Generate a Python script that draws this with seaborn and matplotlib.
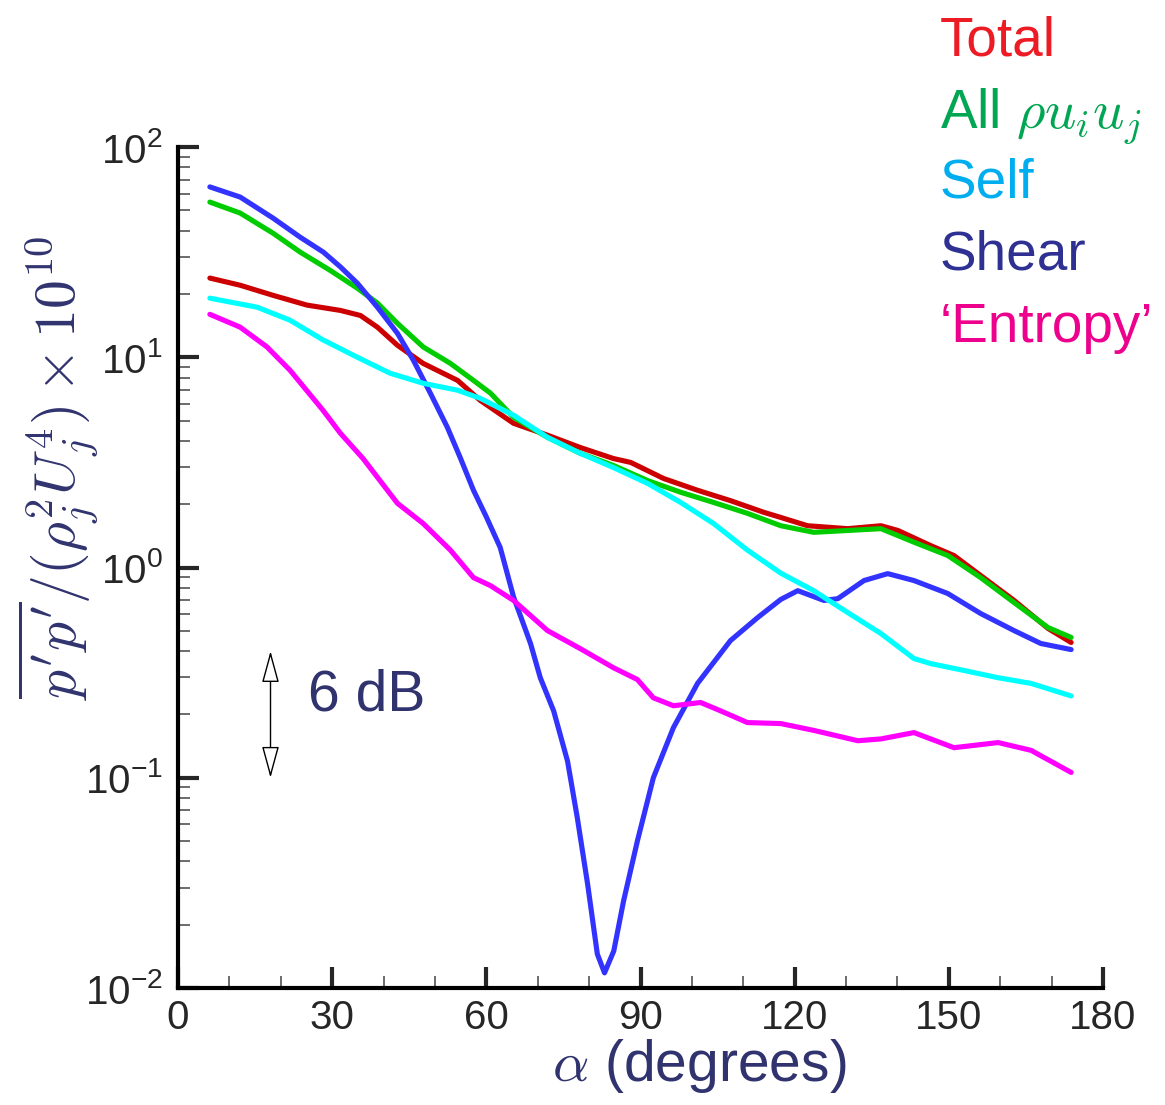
import numpy as np
import pandas as pd
import matplotlib
matplotlib.use('Agg')
import matplotlib.pyplot as plt
import seaborn as sns
from matplotlib.ticker import LogLocator, FuncFormatter, MultipleLocator, NullFormatter

# Far-field directivity of the sound sources
total_alpha = [6.2, 12.1, 18.5, 25.1, 31.6, 35.5, 38.8, 42.7, 47.7, 54.4, 58.8, 65.3, 71.9,
               78.3, 84.7, 88.1, 94.5, 101.1, 107.5, 114.0, 117.3, 122.5, 130.3, 136.8,
               140.1, 146.5, 151.0, 156.2, 162.7, 169.3, 173.8]
total_val = [23.8, 22.0, 19.7, 17.7, 16.7, 15.8, 13.9, 11.4, 9.35, 7.76, 6.24, 4.85, 4.26,
             3.72, 3.30, 3.16, 2.65, 2.33, 2.08, 1.83, 1.73, 1.58, 1.53, 1.58,
             1.50, 1.27, 1.14, 0.916, 0.697, 0.513, 0.440]

all_alpha = [6.2, 12.1, 18.5, 23.8, 29.6, 34.9, 38.8, 42.7, 47.7, 53.0, 57.5, 60.8, 65.3,
             71.9, 78.3, 84.7, 91.4, 97.8, 104.2, 110.8, 117.3, 123.7, 130.3, 136.8,
             143.2, 149.8, 156.2, 162.7, 169.3, 173.8]
all_val = [54.7, 48.5, 38.9, 31.6, 25.9, 21.3, 18.1, 14.5, 11.2, 9.35, 7.76, 6.75, 5.18,
           4.16, 3.49, 3.06, 2.59, 2.28, 2.04, 1.81, 1.58, 1.47, 1.50, 1.53,
           1.32, 1.14, 0.895, 0.681, 0.518, 0.465]

self_alpha = [6.2, 15.4, 21.8, 28.2, 34.9, 41.3, 47.7, 54.4, 58.8, 65.3, 71.9, 78.3, 84.7,
              91.4, 97.8, 104.2, 110.8, 117.3, 123.7, 130.3, 136.8, 143.2, 146.5, 152.9,
              159.6, 166.0, 173.8]
self_val = [19.1, 17.3, 15.0, 12.1, 10.0, 8.39, 7.52, 6.97, 6.38, 5.30, 4.16, 3.49, 2.99,
            2.51, 2.04, 1.62, 1.21, 0.940, 0.776, 0.611, 0.485, 0.369, 0.349, 0.324,
            0.299, 0.281, 0.245]

shear_alpha = [6.2, 12.1, 18.5, 23.8, 28.3, 31.6, 34.9, 38.8, 42.7, 45.8, 49.1, 52.4, 54.9,
               57.5, 60.0, 62.7, 65.3, 68.6, 70.5, 73.1, 75.8, 77.7, 79.7, 81.6, 83.0,
               84.8, 86.7, 89.4, 92.5, 96.4, 101.1, 107.5, 112.8, 117.3, 120.6, 125.7,
               128.4, 133.5, 138.1, 143.2, 149.8, 156.2, 162.7, 167.9, 173.8]
shear_val = [64.6, 57.8, 45.9, 37.2, 31.6, 26.9, 22.5, 17.3, 13.0, 9.68, 6.75, 4.65, 3.34,
             2.33, 1.74, 1.245, 0.724, 0.435, 0.299, 0.208, 0.120, 0.0646, 0.0313, 0.0145, 0.0118,
             0.0150, 0.0259, 0.0501, 0.100, 0.173, 0.281, 0.449, 0.578, 0.705, 0.776, 0.697,
             0.711, 0.867, 0.935, 0.867, 0.752, 0.604, 0.501, 0.435, 0.407]

entropy_alpha = [6.2, 12.1, 17.3, 21.8, 28.2, 31.6, 36.0, 38.0, 42.7, 47.7, 53.0, 57.5, 60.8,
                 65.3, 71.9, 78.3, 84.7, 89.4, 92.5, 96.4, 101.7, 105.6, 110.8, 117.3,
                 123.7, 132.3, 136.8, 143.2, 151.0, 159.6, 166.0, 173.8]
entropy_val = [16.0, 13.9, 11.2, 8.67, 5.60, 4.35, 3.30, 2.85, 2.02, 1.62, 1.21, 0.895, 0.820,
               0.697, 0.501, 0.411, 0.334, 0.293, 0.240, 0.220, 0.228, 0.208, 0.183, 0.181,
               0.168, 0.150, 0.153, 0.164, 0.139, 0.147, 0.135, 0.106]

# legend entries, drawn as coloured text in the top right
legend_labels = ['Total', r'All $\rho u_i u_j$', 'Self', 'Shear', '\u2018Entropy\u2019']
legend_colors = ['#ed1c24', '#00a651', '#00aeef', '#2e3192', '#ec008c']

# 6 dB scale bar
bar_alpha = 18.0
bar_top, bar_bottom = 0.40, 0.10

# Build long-form table
parts = []
for name, a, v in [('Total', total_alpha, total_val), ('All', all_alpha, all_val),
                   ('Shear', shear_alpha, shear_val), ('Self', self_alpha, self_val),
                   ('Entropy', entropy_alpha, entropy_val)]:
    parts.append(pd.DataFrame({'alpha': a, 'value': v, 'source': name}))
df = pd.concat(parts, ignore_index=True)

line_colors = {'Total': '#cc0000', 'All': '#00cc00', 'Self': '#00ffff',
               'Shear': '#3333ff', 'Entropy': '#ff00ff'}
navy = '#30336e'

sns.set_style('ticks')
plt.rcParams['font.family'] = ['Liberation Sans', 'DejaVu Sans']
plt.rcParams['mathtext.fontset'] = 'cm'

fig = plt.figure(figsize=(11.65, 11.05), dpi=100)
ax = fig.add_axes([178 / 1165, 1 - 988 / 1105, 925 / 1165, 841 / 1105])

sns.lineplot(data=df, x='alpha', y='value', hue='source',
             hue_order=['Total', 'All', 'Shear', 'Self', 'Entropy'],
             palette=line_colors, estimator=None, sort=False,
             linewidth=3.7, legend=False, ax=ax)

ax.set_yscale('log')
ax.set_xlim(0, 180)
ax.set_ylim(1e-2, 1e2)

ax.xaxis.set_major_locator(MultipleLocator(30))
ax.xaxis.set_minor_locator(MultipleLocator(10))
ax.yaxis.set_major_locator(LogLocator(base=10))
ax.yaxis.set_minor_locator(LogLocator(base=10, subs=np.arange(2, 10)))
ax.yaxis.set_minor_formatter(NullFormatter())
ax.yaxis.set_major_formatter(FuncFormatter(lambda v, p: r'$\mathregular{10^{%d}}$' % int(round(np.log10(v)))))

ax.tick_params(which='major', direction='in', length=15, width=3, labelsize=29, pad=8)
ax.tick_params(axis='y', which='major', pad=11)
ax.tick_params(which='minor', direction='in', length=8.5, width=1.1, color='#444444')
ax.tick_params(top=False, right=False, which='both')

for s in ['top', 'right']:
    ax.spines[s].set_visible(False)
for s in ['left', 'bottom']:
    ax.spines[s].set_linewidth(3)
    ax.spines[s].set_color('black')

ax.set_xlabel(r'$\alpha$ (degrees)', fontsize=41, color=navy)
ax.set_ylabel(r"$\overline{p'p'}/(\rho_j^2 U_j^4)\times 10^{10}$", fontsize=41.5, color=navy)
ax.xaxis.set_label_coords(0.564, -0.058)
ax.yaxis.set_label_coords(-0.083, 0.618)

# 6 dB scale bar
ax.annotate('', xy=(bar_alpha, bar_top), xytext=(bar_alpha, bar_bottom),
            arrowprops=dict(arrowstyle='<|-|>,head_length=1.1,head_width=0.3',
                            mutation_scale=18, fc='white', ec='black', lw=1.0,
                            shrinkA=0, shrinkB=0))
ax.text(25.3, 0.245, '6 dB', fontsize=41, color=navy, va='center', ha='left')

# coloured text legend
baselines = [55, 127, 198, 270, 342]
for lab, col, yb in zip(legend_labels, legend_colors, baselines):
    fig.text(940 / 1165, 1 - yb / 1105, lab, color=col, fontsize=39.5, va='baseline', ha='left')

plt.savefig('out.png', dpi=100)
